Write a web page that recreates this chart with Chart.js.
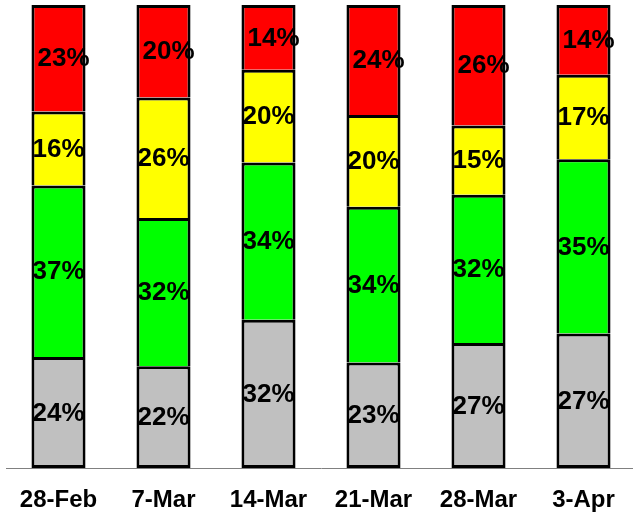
<!DOCTYPE html>
<html>
<head>
<meta charset="utf-8">
<script src="https://cdn.jsdelivr.net/npm/chart.js@4/dist/chart.umd.min.js"></script>
<style>
  html, body { margin: 0; padding: 0; background: #fff; overflow: hidden; }
  #wrap { width: 640px; height: 513px; }
</style>
</head>
<body>
<div id="wrap"><canvas id="chart"></canvas></div>
<script>
const categories = ["28-Feb", "7-Mar", "14-Mar", "21-Mar", "28-Mar", "3-Apr"];
const grayValues = [24, 22, 32, 23, 27, 27];
const greenValues = [37, 32, 34, 34, 32, 35];
const yellowValues = [16, 26, 20, 20, 15, 17];
const redValues = [23, 20, 14, 24, 26, 14];

const series = [
  { values: grayValues, color: "#C0C0C0" },
  { values: greenValues, color: "#00FF00" },
  { values: yellowValues, color: "#FFFF00" },
  { values: redValues, color: "#FF0000" },
];

// 100% stacked: each bar is scaled to its own total, the labels keep the raw values
const totals = categories.map((c, i) =>
  series.reduce((sum, s) => sum + s.values[i], 0),
);

const segmentLabels = {
  id: "segmentLabels",
  afterDatasetsDraw(chart) {
    const ctx = chart.ctx;
    ctx.save();
    ctx.font = "bold 26px 'Liberation Sans', Arial, sans-serif";
    ctx.fillStyle = "#000";
    ctx.textAlign = "center";
    ctx.textBaseline = "middle";
    chart.data.datasets.forEach((ds, d) => {
      const meta = chart.getDatasetMeta(d);
      meta.data.forEach((bar, i) => {
        const shift = d === 3 ? 5 : 0;
        const y = (bar.y + bar.base) / 2;
        ctx.fillText(ds.raw[i] + "%", bar.x + shift, y + 1);
      });
    });
    ctx.restore();
  },
};

new Chart(document.getElementById("chart"), {
  type: "bar",
  data: {
    labels: categories,
    datasets: series.map((s, n) => ({
      raw: s.values,
      data: s.values.map((v, i) => (v / totals[i]) * 100),
      backgroundColor: s.color,
      borderColor: "#000",
      borderWidth: 3,
      borderSkipped: n === 0 ? false : "start",
      barPercentage: 0.515,
      categoryPercentage: 1,
    })),
  },
  options: {
    responsive: true,
    maintainAspectRatio: false,
    animation: false,
    layout: { padding: { top: 5, left: 6, right: 4, bottom: 0 } },
    plugins: {
      legend: { display: false },
      tooltip: { enabled: false },
    },
    scales: {
      x: {
        stacked: true,
        grid: { display: false, drawTicks: false },
        border: { display: true, color: "#808080", width: 1 },
        ticks: {
          color: "#000",
          padding: 18,
          font: { family: "'Liberation Sans', Arial, sans-serif", size: 24, weight: "bold" },
        },
        afterFit(scale) {
          scale.height = 45;
        },
      },
      y: {
        stacked: true,
        display: false,
        min: 0,
        max: 100,
      },
    },
  },
  plugins: [segmentLabels],
});
</script>
</body>
</html>
